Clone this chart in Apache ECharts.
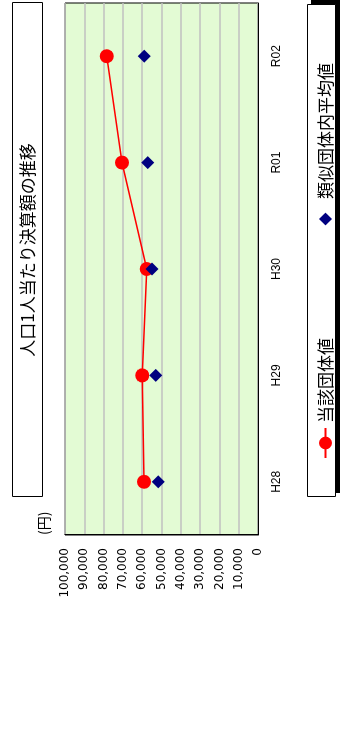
<!DOCTYPE html>
<html>
<head>
<meta charset="utf-8">
<script src="https://cdn.jsdelivr.net/npm/echarts@6/dist/echarts.min.js"></script>
<style>
  html, body { margin: 0; padding: 0; background: #fff; overflow: hidden; }
  /* chart is drawn upright at 741x346, then turned a quarter turn to the left */
  #chart {
    position: absolute; left: 0; top: 0;
    width: 741px; height: 346px;
    transform-origin: 0 0;
    transform: translate(0, 741px) rotate(-90deg);
  }
</style>
</head>
<body>
<div id="chart"></div>
<script>
const categories = ['H28', 'H29', 'H30', 'R01', 'R02']
const ownValues = [59070, 59950, 57670, 70470, 78400]
const similarAvg = [51650, 53000, 54920, 57150, 58900]
const seriesNames = ['当該団体値', '類似団体内平均値']
const titleText = '人口1人当たり決算額の推移'
const unitLabel = '(円)'
const yMax = 100000
const yStep = 10000

const jp = '"Noto Sans CJK JP", sans-serif'
const chart = echarts.init(document.getElementById('chart'))

const option = {
  animation: false,
  graphic: [
    // title box
    {
      type: 'rect', z: 0,
      shape: { x: 244.5, y: 12.5, width: 494, height: 30 },
      style: { fill: '#fff', stroke: '#000', lineWidth: 1 },
    },
    {
      type: 'text', z: 1, x: 491, y: 28,
      style: {
        text: titleText, fontFamily: jp, fontSize: 17, fill: '#000',
        align: 'center', verticalAlign: 'middle',
      },
    },
    // legend box with its shadow
    {
      type: 'rect', z: 0,
      shape: { x: 248, y: 311, width: 494, height: 29 },
      style: { fill: '#000' },
    },
    {
      type: 'rect', z: 0,
      shape: { x: 244.5, y: 307.5, width: 492, height: 28 },
      style: { fill: '#fff', stroke: '#000', lineWidth: 1 },
    },
  ],
  legend: {
    left: 277,
    top: 312,
    itemGap: 104,
    itemWidth: 30,
    itemHeight: 16,
    textStyle: { fontFamily: jp, fontSize: 17, color: '#000' },
    data: seriesNames,
  },
  grid: {
    left: 206, right: 3, top: 65, bottom: 88,
    show: true,
    backgroundColor: '#e3fbd4',
    borderColor: '#000',
    borderWidth: 1,
  },
  xAxis: {
    type: 'category',
    data: categories,
    boundaryGap: true,
    axisLine: { lineStyle: { color: '#000', width: 1 } },
    axisTick: { show: false },
    axisLabel: {
      color: '#000', fontFamily: '"Liberation Sans", Arial, sans-serif',
      fontSize: 12, margin: 13,
    },
  },
  yAxis: {
    type: 'value',
    min: 0, max: yMax, interval: yStep,
    name: unitLabel,
    nameLocation: 'end',
    nameGap: 14,
    nameTextStyle: { fontFamily: jp, fontSize: 14, color: '#000', align: 'left' },
    axisLine: { show: true, lineStyle: { color: '#000', width: 1 } },
    axisTick: { show: false },
    axisLabel: {
      color: '#000', fontFamily: '"DejaVu Sans", sans-serif', fontSize: 12, margin: 13,
      formatter: (v) => v.toLocaleString('en-US'),
    },
    splitLine: { lineStyle: { color: '#c0c0c0', width: 1.5 } },
  },
  series: [
    {
      name: seriesNames[0],
      type: 'line',
      data: ownValues,
      symbol: 'circle',
      symbolSize: 14,
      itemStyle: { color: '#ff0000' },
      lineStyle: { color: '#ff0000', width: 1.5 },
    },
    {
      name: seriesNames[1],
      type: 'line',
      data: similarAvg,
      symbol: 'diamond',
      symbolSize: 13,
      itemStyle: { color: '#000080' },
      lineStyle: { color: 'rgba(0,0,0,0)', width: 0 },
    },
  ],
}
chart.setOption(option)
</script>
</body>
</html>
